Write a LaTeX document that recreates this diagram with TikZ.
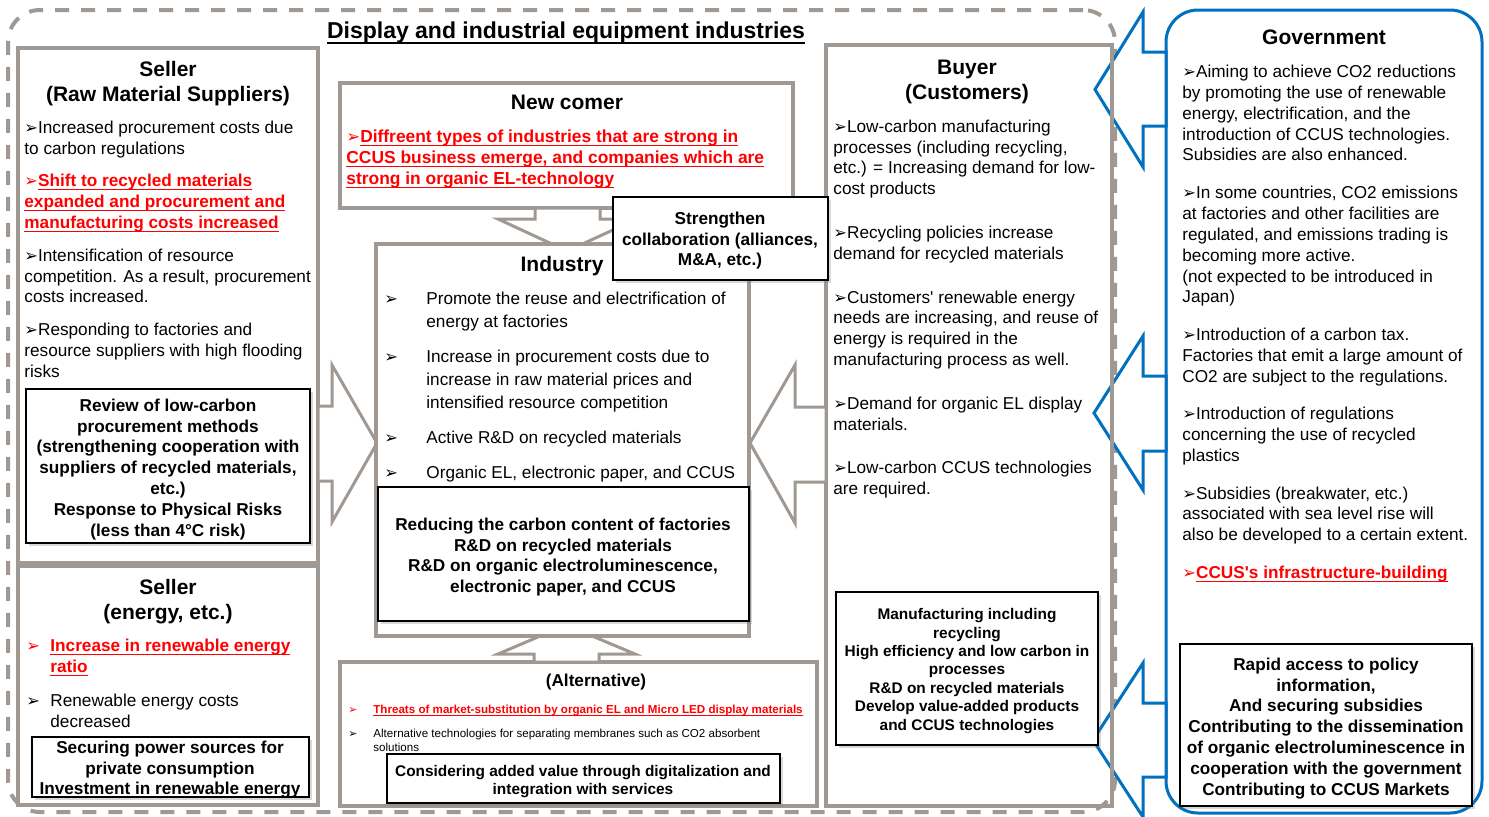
\documentclass[tikz,border=0pt]{standalone}
\usepackage{fontspec}
\setmainfont{Liberation Sans}
\newfontfamily\dejavu{DejaVu Sans}
\usetikzlibrary{fit,shadows}

\definecolor{boxgray}{RGB}{160,153,147}
\definecolor{govblue}{RGB}{0,112,192}

\newcommand{\bodyfont}{\fontsize{8.6}{10.4}\selectfont}
\newcommand{\headfont}{\fontsize{10.5}{12.5}\selectfont\bfseries}
\newcommand{\keyfont}{\fontsize{8.6}{10.4}\selectfont\bfseries}
\newcommand{\smallkeyfont}{\fontsize{7.7}{9.2}\selectfont\bfseries}
\newcommand{\titlefont}{\fontsize{11.5}{13}\selectfont\bfseries}

\newsavebox{\ulbox}
\newcommand{\undl}[1]{\sbox{\ulbox}{#1}\rlap{\rule[-0.2em]{\wd\ulbox}{0.075em}}\usebox{\ulbox}}
\newcommand{\redul}[1]{{\color{red}\bfseries\undl{#1}}}
\newcommand{\arr}{\scalebox{0.95}{\dejavu\char"27A2}}
\newcommand{\rarr}{{\color{red}\arr}}

\begin{document}
\begin{tikzpicture}[x=0.5pt,y=-0.5pt,
graybox/.style={draw=boxgray,line width=2pt,fill=white,inner sep=0pt,outer sep=0pt},
keybox/.style={draw=black,line width=1pt,fill=white,inner sep=0pt,outer sep=0pt,
  drop shadow={opacity=0.3,shadow xshift=1.5pt,shadow yshift=-1.5pt}},
keytxt/.style={font=\keyfont,align=center,inner sep=0pt,anchor=north},
graybar/.style={draw=boxgray,line width=1.5pt,fill=white},
bluebar/.style={draw=govblue,line width=1.5pt,fill=white},
head/.style={font=\headfont,align=center,inner sep=0pt,anchor=north},
txt/.style={font=\bodyfont,align=left,inner sep=0pt,anchor=north west}]

\useasboundingbox (0,0) rectangle (1489,816);

% industry frame
\node[draw=boxgray,line width=2pt,dash pattern=on 7pt off 6pt,rounded corners=16pt,inner sep=0pt,
  fit={(8,10) (1115,812)}] (frame) {};
\node[font=\titlefont,inner sep=0pt] (title) at (566,33) {\undl{Display and industrial equipment industries}};

% government side
\node[draw=govblue,line width=1.5pt,fill=white,rounded corners=16pt,inner sep=0pt,outer sep=0pt,
  fit={(1166,10) (1482,813)}] (gov) {};
\draw[bluebar] (gov.west |- 0,52) -- (1143,52) -- (1143,12) -- (1095,89.5) -- (1143,167) -- (1143,126) -- (gov.west |- 0,126) -- cycle;
\draw[bluebar] (gov.west |- 0,376) -- (1143,376) -- (1143,336) -- (1094,413) -- (1143,490) -- (1143,451) -- (gov.west |- 0,451) -- cycle;
\draw[bluebar] (gov.west |- 0,703) -- (1143,703) -- (1143,663) -- (1093,740) -- (1143,817) -- (1143,777) -- (gov.west |- 0,777) -- cycle;

% players
\node[graybox,fit={(18,48) (318,563)}] (raw) {};
\node[graybox,fit={(18,566) (318,805)}] (energy) {};
\node[graybox,fit={(340,83) (793,208)}] (newcomer) {};
\node[graybox,fit={(340,662) (817,806)}] (alternative) {};
\node[graybox,fill=none,fit={(826,45) (1112,806)}] (buyer) {};

% forces
\draw[graybar] (raw.east |- 0,406) -- (332,406) -- (332,365) -- (377,443) -- (332,522) -- (332,481) -- (raw.east |- 0,481) -- cycle;
\draw[graybar] (buyer.west |- 0,407) -- (795,407) -- (795,365) -- (750,443) -- (795,523) -- (795,482) -- (buyer.west |- 0,482) -- cycle;
\draw[graybar] (535,0 |- newcomer.south) -- (535,219) -- (498,219) -- (567,251) -- (637,219) -- (600,219) -- (600,0 |- newcomer.south) -- cycle;
\draw[graybar] (534,0 |- alternative.north) -- (534,654) -- (498,654) -- (566,625) -- (635,654) -- (599,654) -- (599,0 |- alternative.north) -- cycle;

\node[graybox,fit={(376,244) (749,636)}] (industry) {};

% measures
\node[keybox,fit={(26,389) (310,543)}] (review) {};
\node[keytxt] (reviewtxt) at (168,398.5) {Review of low-carbon\\procurement methods\\(strengthening cooperation with\\suppliers of recycled materials,\\etc.)\\Response to Physical Risks\\(less than 4°C risk)};
\node[keybox,fit={(32,737) (309,797)}] (securing) {};
\node[keytxt] (securingtxt) at (170,740.5) {Securing power sources for\\private consumption\\Investment in renewable energy};
\node[keybox,fit={(378,487) (749,621)}] (reducing) {};
\node[keytxt] (reducingtxt) at (563,517.5) {Reducing the carbon content of factories\\R\&D on recycled materials\\R\&D on organic electroluminescence,\\electronic paper, and CCUS};
\node[keybox,fit={(613,197) (828,280)}] (strengthen) {};
\node[keytxt] (strengthentxt) at (720,211.5) {Strengthen\\collaboration (alliances,\\M\&A, etc.)};
\node[keybox,fit={(836,592) (1098,745)}] (manufacturing) {};
\node[keytxt,font=\smallkeyfont] (manufacturingtxt) at (967,608.2) {Manufacturing including\\recycling\\High efficiency and low carbon in\\processes\\R\&D on recycled materials\\Develop value-added products\\and CCUS technologies};
\node[keybox,fit={(1180,644) (1472,806)}] (rapid) {};
\node[keytxt] (rapidtxt) at (1326,657.5) {Rapid access to policy\\information,\\And securing subsidies\\Contributing to the dissemination\\of organic electroluminescence in\\cooperation with the government\\Contributing to CCUS Markets};

% texts
\node[head] (rawhead) at (168,60.5) {Seller\\(Raw Material Suppliers)};
\node[txt] (rawtxt) at (24,120.5) {\arr Increased procurement costs due\\to carbon regulations\\[6pt]
\rarr\redul{Shift to recycled materials}\\\redul{expanded and procurement and}\\\redul{manufacturing costs increased}\\[6pt]
\arr Intensification of resource\\competition. As a result, procurement\\costs increased.\\[6pt]
\arr Responding to factories and\\resource suppliers with high flooding\\risks};

\node[head] (enghead) at (168,578.5) {Seller\\(energy, etc.)};
\node[txt] (engtxt) at (26,639) {\makebox[12pt][l]{\rarr}\redul{Increase in renewable energy}\\\hspace*{12pt}\redul{ratio}\\[6.5pt]
\makebox[12pt][l]{\arr}Renewable energy costs\\\hspace*{12pt}decreased};

\node[head] (nchead) at (567,94.5) {New comer};
\node[txt,font=\fontsize{8.7}{10.5}\selectfont] (nctxt) at (346,129.5) {\rarr\redul{Diffreent types of industries that are strong in}\\\redul{CCUS business emerge, and companies which are}\\\redul{strong in organic EL-technology}};

\node[head] (indhead) at (562,255.5) {Industry};
\node[txt,font=\fontsize{8.6}{11.5}\selectfont] (indtxt) at (384,291.5) {\makebox[21pt][l]{\arr}Promote the reuse and electrification of\\\hspace*{21pt}energy at factories\\[6pt]
\makebox[21pt][l]{\arr}Increase in procurement costs due to\\\hspace*{21pt}increase in raw material prices and\\\hspace*{21pt}intensified resource competition\\[6pt]
\makebox[21pt][l]{\arr}Active R\&D on recycled materials\\[6pt]
\makebox[21pt][l]{\arr}Organic EL, electronic paper, and CCUS};

\node[head,font=\keyfont] (althead) at (596,674) {(Alternative)};
\node[txt,font=\fontsize{5.8}{7}\selectfont] (alttxt) at (348,704.5) {\makebox[12.5pt][l]{\rarr}\redul{Threats of market-substitution by organic EL and Micro LED display materials}\\[5pt]
\makebox[12.5pt][l]{\arr}Alternative technologies for separating membranes such as CO2 absorbent\\\hspace*{12.5pt}solutions};
\node[keybox,fit={(387,754) (780,803)}] (considering) {};
\node[keytxt,font=\fontsize{7.7}{9}\selectfont\bfseries] (consideringtxt) at (583,765.2) {Considering added value through digitalization and\\integration with services};

\node[head] (buyhead) at (967,59.5) {Buyer\\(Customers)};
\node[txt] (buytxt) at (833,119.5) {\arr Low-carbon manufacturing\\processes (including recycling,\\etc.) = Increasing demand for low-\\cost products\\[11.5pt]
\arr Recycling policies increase\\demand for recycled materials\\[11.5pt]
\arr Customers\textquotesingle{} renewable energy\\needs are increasing, and reuse of\\energy is required in the\\manufacturing process as well.\\[11.5pt]
\arr Demand for organic EL display\\materials.\\[11.5pt]
\arr Low-carbon CCUS technologies\\are required.};

\node[head] (govhead) at (1324,29.5) {Government};
\node[txt,font=\fontsize{8.6}{10.45}\selectfont] (govtxt) at (1182,64.5) {\arr Aiming to achieve CO2 reductions\\by promoting the use of renewable\\energy, electrification, and the\\introduction of CCUS technologies.\\Subsidies are also enhanced.\\[8.3pt]
\arr In some countries, CO2 emissions\\at factories and other facilities are\\regulated, and emissions trading is\\becoming more active.\\(not expected to be introduced in\\Japan)\\[8.3pt]
\arr Introduction of a carbon tax.\\Factories that emit a large amount of\\CO2 are subject to the regulations.\\[8.3pt]
\arr Introduction of regulations\\concerning the use of recycled\\plastics\\[8.3pt]
\arr Subsidies (breakwater, etc.)\\associated with sea level rise will\\also be developed to a certain extent.\\[8.3pt]
\rarr\redul{CCUS\textquotesingle s infrastructure-building}};

\end{tikzpicture}
\end{document}
